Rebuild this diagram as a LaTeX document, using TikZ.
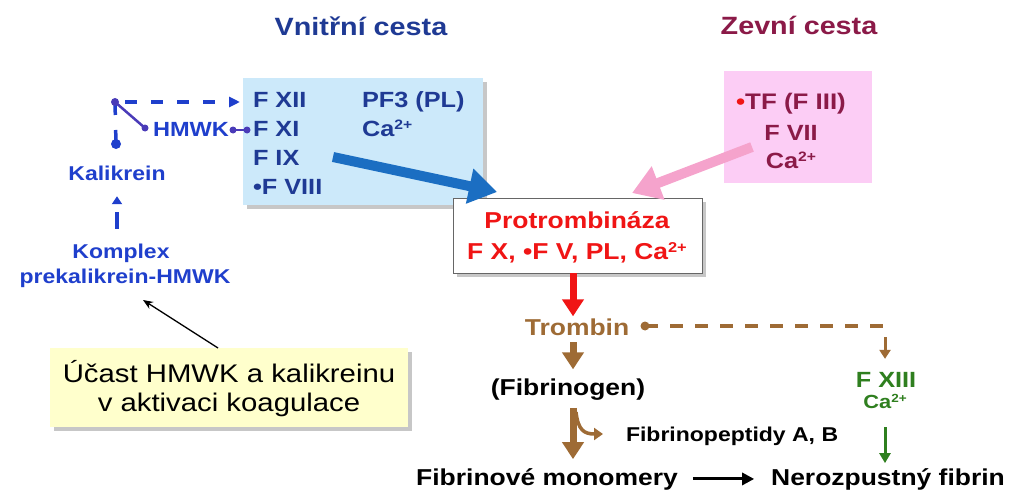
\documentclass[tikz,border=0pt]{standalone}
\usepackage{fontspec}
\setmainfont{Liberation Sans}[FakeStretch=1.15]
\usetikzlibrary{arrows.meta,shadows,calc}
\definecolor{navy}{HTML}{1F3A94}
\definecolor{lblue}{HTML}{1F3FCC}
\definecolor{hmpurple}{HTML}{4A3BB8}
\definecolor{maroon}{HTML}{8B1A48}
\definecolor{boxblue}{HTML}{CCE9FA}
\definecolor{boxpink}{HTML}{FCCDF5}
\definecolor{arrblue}{HTML}{1B6EC2}
\definecolor{arrpink}{HTML}{F5A3CC}
\definecolor{pred}{HTML}{F01515}
\definecolor{tbrown}{HTML}{9E6B35}
\definecolor{fgreen}{HTML}{2F7F1F}
\definecolor{yell}{HTML}{FFFFCC}
\newcommand\myfs[1]{\fontsize{#1}{#1}\selectfont}
\newcommand\mysup[1]{\raisebox{0.3em}{\scalebox{0.62}{#1}}}
\begin{document}
\begin{tikzpicture}[x=1pt,y=-1pt,
  every node/.style={inner sep=0pt,outer sep=0pt},
  head/.style={anchor=base,font=\bfseries\myfs{25}},
  boxt/.style={anchor=base west,font=\bfseries\myfs{22},text=navy},
  pinkt/.style={anchor=base,font=\bfseries\myfs{22},text=maroon},
  redt/.style={anchor=base,font=\bfseries\myfs{23},text=pred},
  leftt/.style={anchor=base,font=\bfseries\myfs{20},text=lblue},
  blackt/.style={anchor=base,font=\bfseries\myfs{23},text=black},
  shade/.style={drop shadow={shadow xshift=4pt,shadow yshift=-4pt,opacity=0.22,fill=black}},
  bigarrow/.style={line width=10pt,-{Triangle[length=28pt,width=34pt]}},
  medarrow/.style={line width=7pt,-{Triangle[length=17pt,width=21pt]}},
  ldash/.style={lblue,line width=3.5pt,dash pattern=on 12pt off 14pt,dash phase=16pt},
]
\useasboundingbox (0,0) rectangle (1024,500);

% headings
\node[head,text=navy] (vc) at (361,36) {Vnitřní cesta};
\node[head,text=maroon] (zc) at (799,35) {Zevní cesta};

% boxes
\node[fill=boxblue,shade,minimum width=240pt,minimum height=127pt,anchor=north west] (vbox) at (243,78) {};
\node[fill=boxpink,minimum width=148pt,minimum height=112pt,anchor=north west] (pbx) at (724,71) {};
\node[fill=white,draw=gray!80!black,line width=1pt,shade,minimum width=249pt,minimum height=75pt,anchor=north west] (pbox) at (453,198) {};
\node[fill=yell,shade,minimum width=358pt,minimum height=79pt,anchor=north west] (ybox) at (50,348) {};

% intrinsic box text
\node[boxt] (f12) at (253,108) {F XII};
\node[boxt] (f11) at (253,136) {F XI};
\node[boxt] (f9) at (253,165) {F IX};
\node[boxt] (f8) at (253,194) {•F VIII};
\node[boxt] (pf3) at (362,108) {PF3 (PL)};
\node[boxt] (ca1) at (362,136) {Ca\mysup{2+}};

% extrinsic box text
\node[pinkt,font=\bfseries\myfs{22.5}] (tf) at (791,110) {\textcolor{pred}{•}TF (F III)};
\node[pinkt] (f7) at (791,140) {F VII};
\node[pinkt] (ca2) at (791,168) {Ca\mysup{2+}};

% protrombinaza
\node[redt] (pt1) at (577,228) {Protrombináza};
\node[redt] (pt2) at (577,259) {F X, •F V, PL, Ca\mysup{2+}};

% big arrows
\coordinate (bs) at (333,157);
\coordinate (bt) at (497,192);
\draw[bigarrow,arrblue] (bs) -- (bt);
\coordinate (ps) at (752,147);
\coordinate (ptip) at (632,193);
\draw[bigarrow,arrpink] (ps) -- (ptip);

% lower chain
\coordinate (ax) at (573,0);
\node[anchor=base,font=\bfseries\myfs{23},text=tbrown] (trom) at (577,335) {Trombin};
\node[blackt] (fib) at (568,395) {(Fibrinogen)};
\node[anchor=base west,font=\bfseries\myfs{20}] (fp) at (626,441) {Fibrinopeptidy A, B};
\node[blackt] (fm) at (547,485) {Fibrinové monomery};
\node[blackt] (nf) at (888,485) {Nerozpustný fibrin};
\node[anchor=base,font=\bfseries\myfs{22},text=fgreen] (f13) at (886,387) {F XIII};
\node[anchor=base,font=\bfseries\myfs{19},text=fgreen] (ca3) at (885,408) {Ca\mysup{2+}};

\draw[medarrow,pred,shorten >=2pt] (pbox.south -| ax) -- (trom.north -| ax);
\draw[medarrow,tbrown,shorten <=7pt,shorten >=9pt] (trom.south -| ax) -- (fib.north -| ax);
\draw[medarrow,tbrown,shorten <=8pt,shorten >=9pt] (fib.south -| ax) -- (fm.north -| ax);
\coordinate (br1) at (576,412);
\coordinate (br2) at (603,434);
\draw[tbrown,line width=3.5pt,-{Triangle[length=9pt,width=12pt]}] (br1) .. controls (578,430) and (584,434) .. (br2);
\draw[line width=3pt,-{Triangle[length=12pt,width=12pt]},shorten <=15pt,shorten >=17pt] (fm.east) -- (nf.west);

% trombin -> F XIII
\coordinate (trdot) at (645,326);
\coordinate (corner) at (885,326);
\fill[tbrown] (trdot) circle (4.5pt);
\draw[tbrown,line width=4pt,dash pattern=on 13pt off 12pt] (trdot) -- (corner);
\draw[tbrown,line width=3pt,-{Triangle[length=9pt,width=11pt]},shorten <=11pt,shorten >=13pt] (corner) -- (f13.north -| corner);
\draw[fgreen,line width=3pt,-{Triangle[length=10pt,width=11pt]},shorten <=19pt,shorten >=5pt] (ca3.south) -- (nf.north -| ca3.south);

% left side
\node[leftt] (kali) at (117,180) {Kalikrein};
\node[leftt] (komp) at (121,258) {Komplex};
\node[leftt] (pk) at (125,283) {prekalikrein-HMWK};
\node[anchor=base west,font=\bfseries\myfs{20.5},text=lblue] (hm) at (153,136) {HMWK};

\coordinate (jn) at (115,102);
\coordinate (kdot) at (116,144);
\coordinate (hdot) at (145,128);
\coordinate (hd2) at (233,130);
\coordinate (hd3) at (247,130);
\draw[ldash,-{Triangle[length=11pt,width=10pt]},shorten >=3pt] (jn) -- (jn -| vbox.west);
\draw[lblue,line width=3.5pt,dash pattern=on 13pt off 15pt] (jn) -- (kdot);
\fill[lblue] (kdot) circle (5pt);
\draw[hmpurple,line width=2.5pt] (jn) -- (hdot);
\fill[hmpurple] (jn) circle (4pt);
\fill[hmpurple] (hdot) circle (3.5pt);
\draw[hmpurple,line width=2.5pt] (hd2) -- (hd3);
\fill[hmpurple] (hd2) circle (3.5pt);
\fill[hmpurple] (hd3) circle (3.5pt);
\draw[lblue,line width=3.5pt,dash pattern=on 17pt off 10pt,-{Triangle[length=8pt,width=10pt]},shorten <=15pt,shorten >=16pt] (komp.north -| kali.south) -- (kali.south);

% yellow note
\node[anchor=base,font=\myfs{25.5}] (y1) at (229,382) {Účast HMWK a kalikreinu};
\node[anchor=base,font=\myfs{25.5}] (y2) at (229,411) {v aktivaci koagulace};
\coordinate (pa1) at (218,348);
\coordinate (pa2) at (143,300);
\draw[line width=1.3pt,-{Stealth[length=10pt,width=8pt]}] (pa1) -- (pa2);
\end{tikzpicture}
\end{document}
